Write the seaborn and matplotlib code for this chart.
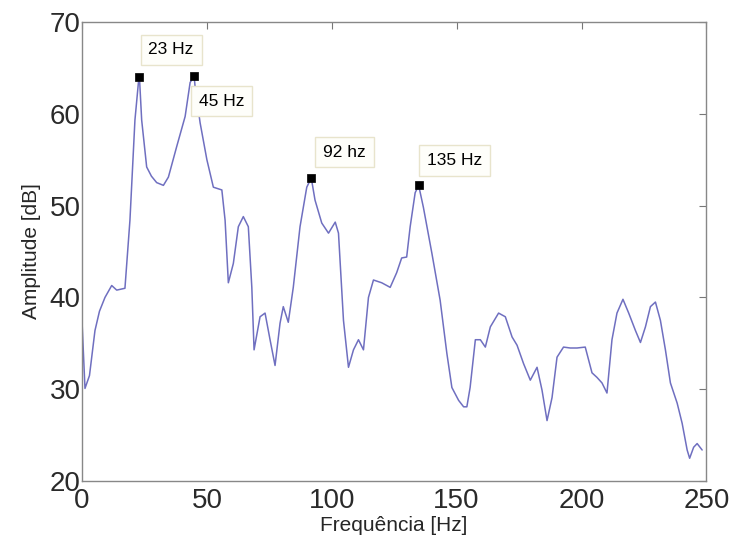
#!/usr/bin/env python3
"""
Spectrum plot (amplitude vs frequency) with peak data tips, MATLAB look.
"""

import pandas as pd
import matplotlib
matplotlib.use("Agg")
import matplotlib.pyplot as plt
import seaborn as sns

# Curve
freq_hz = [0.0, 1.2, 3.0, 5.2, 7.0, 9.2, 11.9, 13.9, 17.2, 19.2, 21.2, 22.6, 23.0,
           23.9, 25.9, 27.8, 29.9, 32.6, 34.6, 37.9, 41.3, 43.3, 44.9, 45.3, 47.3,
           50.0, 52.6, 56.0, 57.3, 58.6, 60.6, 62.6, 64.6, 66.6, 68.0, 68.9, 71.3,
           73.3, 75.3, 77.3, 79.3, 80.6, 82.6, 84.6, 87.3, 90.0, 91.8, 93.3, 96.0,
           98.7, 101.4, 102.7, 104.7, 106.7, 108.7, 110.7, 112.7, 114.7, 116.7,
           120.0, 123.4, 126.0, 128.0, 130.0, 131.4, 133.4, 134.8, 136.7, 140.1,
           143.4, 146.1, 148.1, 150.8, 152.8, 154.1, 155.4, 157.5, 159.5, 161.5,
           163.5, 166.8, 169.5, 172.2, 174.2, 176.8, 179.5, 182.2, 184.2, 186.2,
           188.2, 190.2, 192.8, 195.5, 198.2, 201.5, 204.2, 206.2, 208.2, 210.2,
           212.2, 214.2, 216.6, 218.9, 221.6, 223.6, 225.6, 227.6, 229.6, 231.6,
           233.6, 235.6, 238.3, 240.3, 242.3, 243.3, 244.9, 246.3, 248.3]
amplitude_db = [37.5, 30.1, 31.5, 36.4, 38.5, 40.0, 41.3, 40.8, 41.0, 48.4, 59.3, 63.4, 64.0,
                59.3, 54.2, 53.2, 52.5, 52.2, 53.1, 56.4, 59.7, 63.4, 64.1, 62.9, 59.0,
                55.0, 52.0, 51.7, 48.4, 41.6, 43.7, 47.7, 48.8, 47.7, 41.1, 34.3, 37.9,
                38.3, 35.4, 32.6, 37.2, 39.0, 37.3, 41.1, 47.7, 52.0, 53.0, 50.6, 48.1,
                47.0, 48.2, 47.0, 37.5, 32.4, 34.3, 35.4, 34.3, 40.0, 41.9,
                41.6, 41.1, 42.7, 44.3, 44.4, 47.7, 51.4, 52.2, 49.8, 44.8,
                39.7, 33.9, 30.2, 28.8, 28.1, 28.1, 30.2, 35.4, 35.4, 34.6,
                36.8, 38.3, 37.9, 35.7, 34.8, 32.8, 31.0, 32.4, 29.9, 26.6,
                29.1, 33.5, 34.6, 34.5, 34.5, 34.6, 31.8, 31.3, 30.7, 29.6,
                35.4, 38.3, 39.8, 38.3, 36.4, 35.1, 36.8, 39.0, 39.5, 37.5,
                34.3, 30.7, 28.5, 26.3, 23.4, 22.5, 23.7, 24.1, 23.4]

# Peak data tips
peak_freq = [23.0, 44.9, 91.8, 134.8]
peak_amp = [64.0, 64.1, 53.0, 52.2]
peak_labels = ["23 Hz", "45 Hz", "92 hz", "135 Hz"]
label_offsets = [(9, 27), (5, -25), (12, 26), (8, 25)]  # pixels from the marker

x_ticks = [0, 50, 100, 150, 200, 250]
y_ticks = [20, 30, 40, 50, 60, 70]


def main():
    sns.set_style("white")
    plt.rcParams["font.family"] = ["Liberation Sans", "DejaVu Sans"]

    df = pd.DataFrame({"Frequência [Hz]": freq_hz, "Amplitude [dB]": amplitude_db})
    peaks = pd.DataFrame({"f": peak_freq, "a": peak_amp})

    fig = plt.figure(figsize=(7.32, 5.45), dpi=100)
    ax = fig.add_axes([0.112, 0.117, 0.853, 0.843])

    sns.lineplot(data=df, x="Frequência [Hz]", y="Amplitude [dB]", ax=ax,
                 color="#6f6fc0", linewidth=1.1, sort=False)
    sns.scatterplot(data=peaks, x="f", y="a", ax=ax, marker="s", s=40,
                    color="black", edgecolor="black", zorder=5)

    for f, a, lab, off in zip(peak_freq, peak_amp, peak_labels, label_offsets):
        ax.annotate(lab, xy=(f, a), xytext=off, textcoords="offset pixels",
                    fontsize=12.5, va="center", ha="left", color="black",
                    bbox=dict(boxstyle="square,pad=0.45", facecolor="#fefefa",
                              edgecolor="#e8e4cc", linewidth=1.0))

    ax.set_xlim(0, 250)
    ax.set_ylim(20, 70)
    ax.set_xticks(x_ticks)
    ax.set_yticks(y_ticks)
    ax.tick_params(direction="in", length=5, top=True, right=True,
                   labelsize=20, labelcolor="#2a2a2a", color="#777777", pad=1)
    ax.tick_params(axis="x", pad=5)
    for side in ax.spines.values():
        side.set_color("#888888")
        side.set_linewidth(1.0)

    ax.set_xlabel("Frequência [Hz]", fontsize=15, labelpad=1)
    ax.set_ylabel("Amplitude [dB]", fontsize=15, labelpad=6)

    fig.savefig("out.png", dpi=100)
    plt.close(fig)


if __name__ == "__main__":
    main()
